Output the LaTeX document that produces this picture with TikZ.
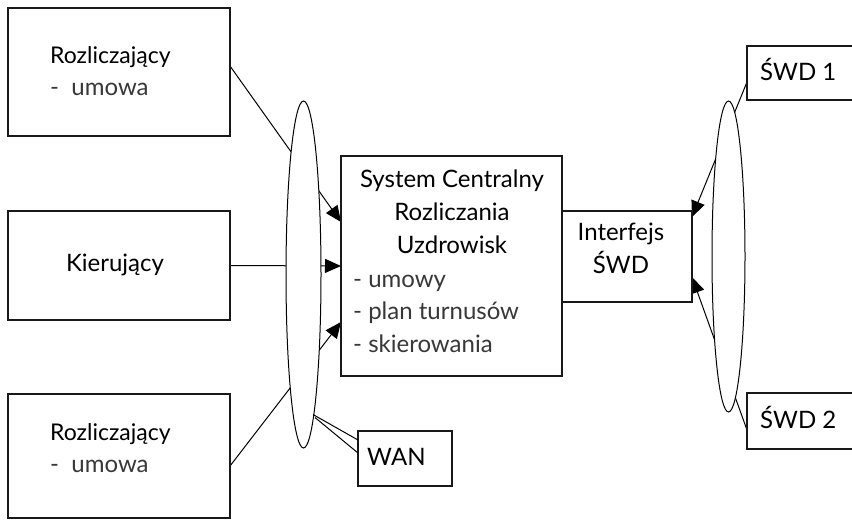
\documentclass[tikz,border=0pt]{standalone}
\usepackage{fontspec}
\setmainfont{Lato}
\usetikzlibrary{arrows.meta,calc,shapes.geometric,backgrounds}
\begin{document}
\begin{tikzpicture}[x=1pt,y=-1pt,
  box/.style={draw=black!90,line width=1.2pt,fill=white,inner sep=0pt,outer sep=0pt},
  oval/.style={draw=black,line width=1pt,fill=white,ellipse,inner sep=0pt,outer sep=0pt},
  txt/.style={font=\fontsize{24}{28}\selectfont,inner sep=0pt,anchor=base west},
  lite/.style={txt,text=black!78},
  conn/.style={line width=1pt,draw=black},
  arr/.style={conn,-{Triangle[length=16pt,width=14pt]}}]
\useasboundingbox (0,0) rectangle (852,520);
% boxes
\node[box,minimum width=222pt,minimum height=128pt] (r1) at (119,72) {};
\node[box,minimum width=222pt,minimum height=109pt] (k) at (119,265.5) {};
\node[box,minimum width=222pt,minimum height=124pt] (r2) at (119,456) {};
\node[box,minimum width=221pt,minimum height=220pt] (c) at (451.5,266) {};
\node[box,minimum width=130pt,minimum height=91pt] (i) at (627,256.5) {};
\node[box,minimum width=113pt,minimum height=54pt] (s1) at (803.5,73) {};
\node[box,minimum width=113pt,minimum height=56pt] (s2) at (803.5,421) {};
\node[box,minimum width=94pt,minimum height=55pt] (wan) at (405,458.5) {};
% texts
\node[txt,font=\fontsize{23}{27}\selectfont] (r1a) at (50,63) {Rozliczający};
\node[lite] (r1b) at (50,95) {-\ \ umowa};
\node[txt,anchor=base] (ka) at (115,271) {Kierujący};
\node[txt,font=\fontsize{23}{27}\selectfont] (r2a) at (50,440) {Rozliczający};
\node[lite] (r2b) at (50,472) {-\ \ umowa};
\node[txt,anchor=base] (c1) at (452,187) {System Centralny};
\node[txt,anchor=base] (c2) at (452,220) {Rozliczania};
\node[txt,anchor=base] (c3) at (452,253) {Uzdrowisk};
\node[lite] (c4) at (353,287) {-\ umowy};
\node[lite] (c5) at (353,319) {-\ plan turnusów};
\node[lite] (c6) at (353,352) {-\ skierowania};
\node[txt,anchor=base] (i1) at (621,240) {Interfejs};
\node[txt,anchor=base] (i2) at (621,273) {ŚWD};
\node[txt] (s1t) at (760,80) {ŚWD 1};
\node[txt] (s2t) at (760,428) {ŚWD 2};
\node[txt] (want) at (367,465) {WAN};
% ellipses
\node[oval,minimum width=35pt,minimum height=347pt] (e1) at (303.5,274.5) {};
\node[oval,minimum width=33pt,minimum height=311pt] (e2) at (728.5,256.5) {};
% WAN callout
\coordinate (wtip) at (313,414.5);
\coordinate (wtip2) at (315,417.5);
\draw[conn] (wtip) -- ($(wan.north west)+(0,9)$);
\draw[conn] (wtip2) -- ($(wan.north west)+(0,22)$);
% connectors behind the ellipses
\begin{pgfonlayer}{background}
\draw[arr] ($(r1.north east)+(0,58)$) -- ($(c.north west)+(0,66)$);
\draw[arr] (k.east) -- (c.west);
\draw[arr] ($(r2.north east)+(0,72)$) -- ($(c.north west)+(0,166)$);
\draw[arr] ($(s1.north west)+(0,36)$) -- ($(i.north east)+(0,6)$);
\draw[arr] ($(s2.north west)+(0,37)$) -- ($(i.north east)+(0,66)$);
\end{pgfonlayer}
\end{tikzpicture}
\end{document}
